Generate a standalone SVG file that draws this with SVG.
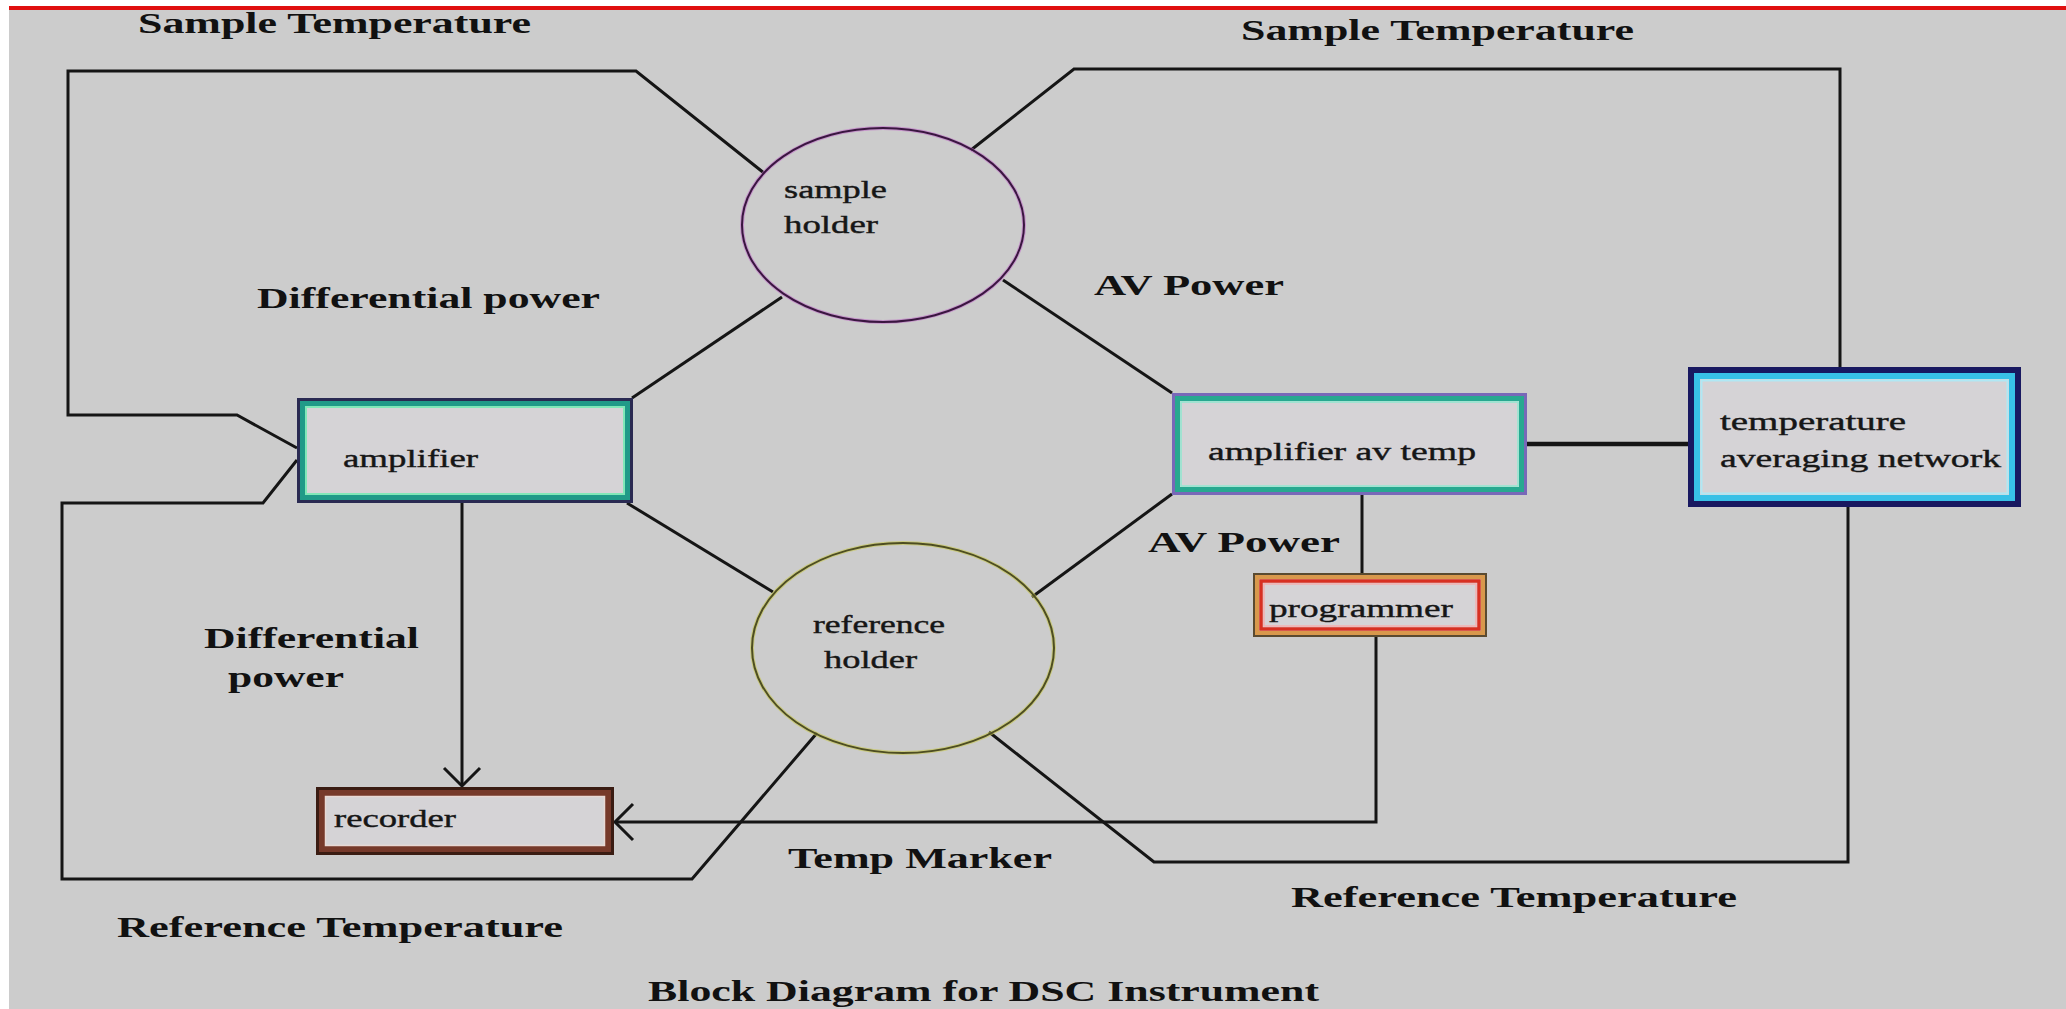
<svg xmlns="http://www.w3.org/2000/svg" width="2066" height="1009" viewBox="0 0 2066 1009">
<style>
.lbl{font-family:"Liberation Serif","Times New Roman",serif;font-weight:bold;font-size:30px;fill:#111}
.nt{font-family:"Liberation Serif","Times New Roman",serif;font-size:26px;fill:#161616;stroke:#161616;stroke-width:0.4}
.wire{fill:none;stroke:#151515;stroke-width:3;stroke-linejoin:miter}
.fill{fill:#d5d3d6}
</style>
<defs>
<marker id="vee" markerUnits="userSpaceOnUse" viewBox="-22 -22 44 44" markerWidth="44" markerHeight="44" refX="0" refY="0" orient="auto">
<path d="M-18,-18 L0,0 L-18,18" fill="none" stroke="#151515" stroke-width="3"/>
</marker>
</defs>
<rect x="0" y="0" width="2066" height="1009" fill="#ffffff"/>
<rect x="9" y="9" width="2057" height="1000" fill="#cccccc"/>
<rect x="9" y="6" width="2057" height="4" fill="#e01010"/>

<g id="connectors">
<polyline class="wire" points="764,173 636,71 68,71 68,415 237,415 297,448"/>
<polyline class="wire" points="297,460 263,503 62,503 62,879 692,879 817,733"/>
<polyline class="wire" points="971,150 1074,69 1840,69 1840,367"/>
<polyline class="wire" points="989,732 1154,862 1848,862 1848,507"/>
<line class="wire" x1="782" y1="297" x2="632" y2="398"/>
<line class="wire" x1="1003" y1="280" x2="1172" y2="393"/>
<line class="wire" x1="627" y1="503" x2="773" y2="592"/>
<line class="wire" x1="1172" y1="494" x2="1032" y2="597"/>
<line class="wire" x1="462" y1="503" x2="462" y2="786" marker-end="url(#vee)"/>
<line class="wire" x1="1527" y1="444" x2="1688" y2="444" style="stroke-width:4.5"/>
<line class="wire" x1="1362" y1="495" x2="1362" y2="573"/>
<polyline class="wire" points="1376,637 1376,822 615,822" marker-end="url(#vee)"/>
</g>

<g id="sample-holder">
<ellipse cx="883" cy="225" rx="141" ry="97" fill="none" stroke="#c070c8" stroke-width="4" opacity="0.6"/>
<ellipse cx="883" cy="225" rx="141" ry="97" fill="none" stroke="#3a1640" stroke-width="2"/>
<text class="nt" x="784" y="198" font-size="24" textLength="103" lengthAdjust="spacingAndGlyphs">sample</text>
<text class="nt" x="784" y="233" font-size="24" textLength="94" lengthAdjust="spacingAndGlyphs">holder</text>
</g>

<g id="reference-holder">
<ellipse cx="903" cy="648" rx="151" ry="105" fill="none" stroke="#c8c850" stroke-width="4" opacity="0.6"/>
<ellipse cx="903" cy="648" rx="151" ry="105" fill="none" stroke="#4e4e22" stroke-width="2"/>
<text class="nt" x="813" y="633" font-size="25" textLength="132" lengthAdjust="spacingAndGlyphs">reference</text>
<text class="nt" x="824" y="668" font-size="25" textLength="93" lengthAdjust="spacingAndGlyphs">holder</text>
</g>

<g id="amplifier">
<rect class="fill" x="298.5" y="399.5" width="333" height="102" stroke="#2a2a52" stroke-width="3"/>
<rect x="302.5" y="403.5" width="325" height="94" fill="none" stroke="#209a88" stroke-width="5"/>
<rect x="306" y="407" width="318" height="87" fill="none" stroke="#80e8b8" stroke-width="2"/>
<text class="nt" x="343" y="467" font-size="27" textLength="135" lengthAdjust="spacingAndGlyphs">amplifier</text>
</g>

<g id="amplifier-av-temp">
<rect class="fill" x="1173.5" y="394.5" width="352" height="99" stroke="#7868b8" stroke-width="3"/>
<rect x="1177.5" y="398.5" width="344" height="91" fill="none" stroke="#28a890" stroke-width="5"/>
<rect x="1181" y="402" width="337" height="84" fill="none" stroke="#90e8d0" stroke-width="1.5"/>
<text class="nt" x="1208" y="460" font-size="27" textLength="268" lengthAdjust="spacingAndGlyphs">amplifier av temp</text>
</g>

<g id="temperature-averaging-network">
<rect class="fill" x="1691" y="370" width="327" height="134" stroke="#181860" stroke-width="6"/>
<rect x="1697" y="376" width="315" height="122" fill="none" stroke="#38c0e6" stroke-width="6"/>
<rect x="1701.5" y="380.5" width="306" height="113" fill="none" stroke="#b0e8f4" stroke-width="2"/>
<text class="nt" x="1720" y="430" font-size="27" textLength="186" lengthAdjust="spacingAndGlyphs">temperature</text>
<text class="nt" x="1720" y="467" font-size="27" textLength="281" lengthAdjust="spacingAndGlyphs">averaging network</text>
</g>

<g id="programmer">
<rect class="fill" x="1254" y="574" width="232" height="62" stroke="#5a4a30" stroke-width="2"/>
<rect x="1257" y="577" width="226" height="56" fill="none" stroke="#d8984c" stroke-width="4"/>
<rect x="1261" y="581" width="218" height="48" fill="none" stroke="#d83022" stroke-width="3.5"/>
<rect x="1264" y="584" width="212" height="42" fill="none" stroke="#f4b0b0" stroke-width="1.5"/>
<text class="nt" x="1269" y="617" font-size="25" textLength="184" lengthAdjust="spacingAndGlyphs">programmer</text>
</g>

<g id="recorder">
<rect class="fill" x="317.5" y="788.5" width="295" height="65" stroke="#3a1c12" stroke-width="3"/>
<rect x="322" y="793" width="286" height="56" fill="none" stroke="#76392a" stroke-width="6"/>
<rect x="325.5" y="796.5" width="279" height="49" fill="none" stroke="#e8d8d4" stroke-width="1.5"/>
<text class="nt" x="334" y="827" font-size="25" textLength="122" lengthAdjust="spacingAndGlyphs">recorder</text>
</g>

<g id="labels">
<text class="lbl" x="138" y="33" textLength="393" lengthAdjust="spacingAndGlyphs">Sample Temperature</text>
<text class="lbl" x="1241" y="40" textLength="393" lengthAdjust="spacingAndGlyphs">Sample Temperature</text>
<text class="lbl" x="257" y="308" font-size="31" textLength="343" lengthAdjust="spacingAndGlyphs">Differential power</text>
<text class="lbl" x="1094" y="295" textLength="190" lengthAdjust="spacingAndGlyphs">AV Power</text>
<text class="lbl" x="1148" y="552" textLength="192" lengthAdjust="spacingAndGlyphs">AV Power</text>
<text class="lbl" x="204" y="648" textLength="215" lengthAdjust="spacingAndGlyphs">Differential</text>
<text class="lbl" x="228" y="687" textLength="116" lengthAdjust="spacingAndGlyphs">power</text>
<text class="lbl" x="788" y="868" textLength="264" lengthAdjust="spacingAndGlyphs">Temp Marker</text>
<text class="lbl" x="117" y="937" textLength="446" lengthAdjust="spacingAndGlyphs">Reference Temperature</text>
<text class="lbl" x="1291" y="907" textLength="446" lengthAdjust="spacingAndGlyphs">Reference Temperature</text>
<text class="lbl" x="648" y="1001" textLength="671" lengthAdjust="spacingAndGlyphs">Block Diagram for DSC Instrument</text>
</g>
</svg>
